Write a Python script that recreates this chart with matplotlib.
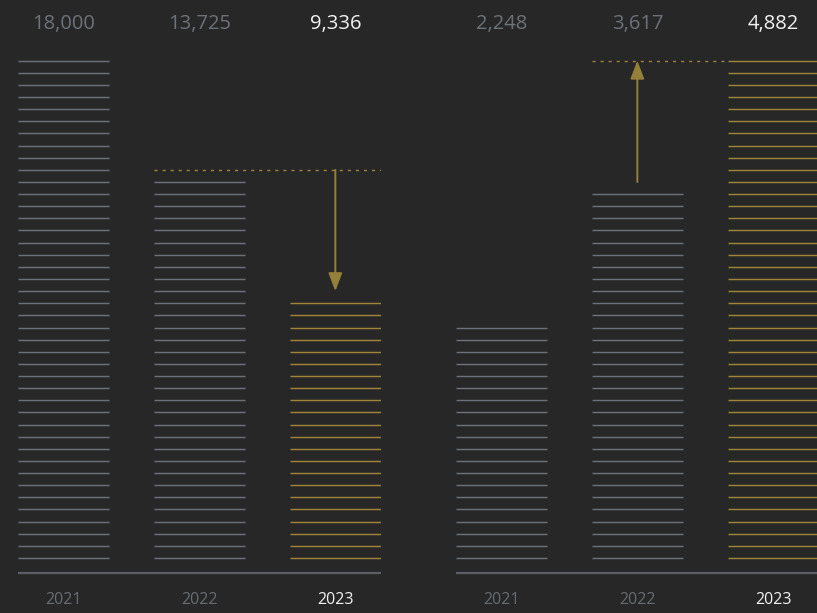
import math
import matplotlib
matplotlib.use("Agg")
import matplotlib.pyplot as plt
from matplotlib.transforms import blended_transform_factory

# ---------------- data ----------------
years = ["2021", "2022", "2023"]
left_values = [18000, 13725, 9336]
left_labels = ["18,000", "13,725", "9,336"]
right_values = [2248, 3617, 4882]
right_labels = ["2,248", "3,617", "4,882"]

# ---------------- style ----------------
BG = "#272727"
GRAY = "#6b7079"
GOLD = "#9d843a"
ARROW = "#958039"
BASE = "#5b5e64"
TXT_GRAY = "#6d7178"
YEAR_GRAY = "#686c72"
WHITE = "#f2f2f2"
FONT = ["Open Sans", "DejaVu Sans"]

W, H = 817, 613
LINES_FULL = 42          # number of rules in the tallest bar
STEP_PX = 12.13          # spacing between rules (px)
OFFSET = 1.237           # first rule above baseline, in steps
BASE_PX = 573            # baseline from top (px)
BAR_PITCH = 136.0
BAR_W = 90.67
HW = BAR_W / BAR_PITCH / 2

fig = plt.figure(figsize=(W / 100, H / 100), dpi=100)
fig.patch.set_facecolor(BG)


def panel(x0_px, values, labels):
    width_px = BAR_PITCH * 2 + BAR_W
    ax = fig.add_axes([x0_px / W, (H - BASE_PX) / H, width_px / W, BASE_PX / H])
    ax.set_axis_off()
    ax.patch.set_alpha(0)
    unit = max(values) / LINES_FULL
    ax.set_xlim(-HW, 2 + HW)
    ax.set_ylim(0, BASE_PX / STEP_PX * unit)

    counts = []
    for i, v in enumerate(values):
        n = math.ceil(v / unit - (OFFSET - 1) - 1e-9)
        counts.append(n)
        ys = [(k + OFFSET) * unit for k in range(n)]
        color = GOLD if i == len(values) - 1 else GRAY
        ax.hlines(ys, i - HW, i + HW, colors=color, lw=1.05)

    # baseline
    ax.plot([-HW, 2 + HW], [0, 0], color=BASE, lw=1.6, solid_capstyle="butt",
            clip_on=False)

    def level(n):
        return (min(n, LINES_FULL - 1) + OFFSET) * unit

    lv_prev = level(counts[1])
    lv_cur = level(counts[2])
    dash_lv = max(lv_prev, lv_cur)
    x_end = 2 - HW if lv_cur >= dash_lv else 2 + HW
    ax.plot([1 - HW, x_end], [dash_lv, dash_lv], color=GOLD, lw=1.0,
            linestyle=(0, (2.2, 3.6)))
    ax_x = 2 if values[2] < values[1] else 1
    ax.annotate("", xy=(ax_x, lv_cur), xytext=(ax_x, lv_prev),
                arrowprops=dict(arrowstyle="-|>,head_length=1.1,head_width=0.42",
                                mutation_scale=10, color=ARROW, lw=1.4,
                                shrinkA=0, shrinkB=0))

    tr = blended_transform_factory(ax.transData, fig.transFigure)
    for i, (lab, yr) in enumerate(zip(labels, years)):
        last = i == len(labels) - 1
        ax.text(i, 1 - 23.5 / H, lab, transform=tr, ha="center", va="center",
                fontsize=14.5, color=WHITE if last else TXT_GRAY, family=FONT)
        ax.text(i, 1 - 599.5 / H, yr, transform=tr, ha="center", va="center",
                fontsize=11.5, color=WHITE if last else YEAR_GRAY, family=FONT,
                fontweight="medium" if last else "normal")
    return ax


panel(18, left_values, left_labels)
panel(456, right_values, right_labels)

fig.savefig("out.png", dpi=100, facecolor=BG)
